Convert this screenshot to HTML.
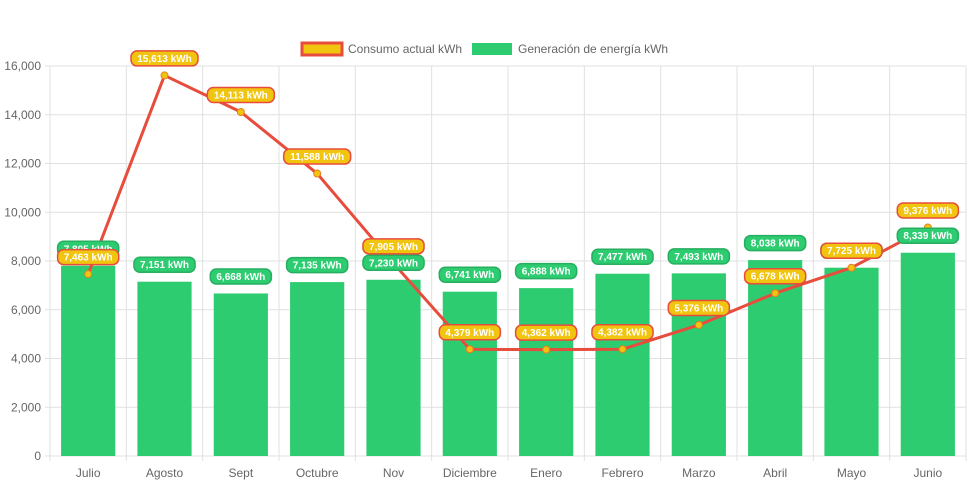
<!DOCTYPE html>
<html><head><meta charset="utf-8"><style>
body{margin:0;background:#fff;}
svg{display:block;font-family:"Liberation Sans",Arial,sans-serif;}
</style></head><body>
<svg id="chart" width="971" height="485"></svg>
<script>
const categories=["Julio","Agosto","Sept","Octubre","Nov","Diciembre","Enero","Febrero","Marzo","Abril","Mayo","Junio"];
const consumo=[7463,15613,14113,11588,7905,4379,4362,4382,5376,6678,7725,9376];
const generacion=[7805,7151,6668,7135,7230,6741,6888,7477,7493,8038,7725,8339];
const yTicks=[0,2000,4000,6000,8000,10000,12000,14000,16000];
const NS="http://www.w3.org/2000/svg";
const svg=document.getElementById('chart');
const L=50,R=966,T=66,B=456,yMax=16000;
const bw=(R-L)/categories.length;
const y=v=>B-(v/yMax)*(B-T);
const xc=i=>L+bw*(i+0.5);
function mk(tag,attrs,parent){const e=document.createElementNS(NS,tag);for(const k in attrs)e.setAttribute(k,attrs[k]);(parent||svg).appendChild(e);return e;}
const fmt=v=>v.toLocaleString('en-US');
// grid
yTicks.forEach(t=>{
 const g=mk('line',{x1:L-5,x2:R,y1:y(t),y2:y(t),stroke:'#e0e0e0','stroke-width':1});
 
 
 const tx=mk('text',{x:L-9,y:y(t)+4,'text-anchor':'end','font-size':12,fill:'#666'});
 tx.textContent=fmt(t);
 
 
});
for(let i=0;i<=categories.length;i++){
 const g=mk('line',{x1:L+bw*i,x2:L+bw*i,y1:T,y2:B+5,stroke:'#e0e0e0','stroke-width':1});
 
 
}
categories.forEach((c,i)=>{
 const tx=mk('text',{x:xc(i),y:B+21,'text-anchor':'middle','font-size':12,fill:'#666'});
 tx.textContent=c;
 
 
});
// bars
generacion.forEach((v,i)=>{
 const w=bw*0.71;
 const r=mk('rect',{x:xc(i)-w/2,y:y(v),width:w,height:B-y(v),fill:'#2ecc71'});
 
 
});
// line
const pts=consumo.map((v,i)=>xc(i)+','+y(v)).join(' ');
const pl=mk('polyline',{points:pts,fill:'none',stroke:'#e74c3c','stroke-width':3,'stroke-linejoin':'round'});


consumo.forEach((v,i)=>{
 const c=mk('circle',{cx:xc(i),cy:y(v),r:3.5,fill:'#f1c40f',stroke:'#e67e22','stroke-width':1});
 
 
});
function label(cx,cy,text,fill,stroke){
 const g=mk('g',{});
 const w=text.length*5.9+8;
 mk('rect',{x:cx-w/2,y:cy-7.5,width:w,height:15,rx:6,fill:fill,stroke:stroke,'stroke-width':stroke==='none'?0:1.5},g);
 const t=mk('text',{x:cx,y:cy+3.5,'text-anchor':'middle','font-size':10,'font-weight':'bold',fill:'#fff'},g);
 t.textContent=text;
 return g;
}
generacion.forEach((v,i)=>{
 const g=label(xc(i),y(v)-17,fmt(v)+' kWh','#2ecc71','#27ae60');
 
 
});
consumo.forEach((v,i)=>{
 const g=label(xc(i),y(v)-17,fmt(v)+' kWh','#f1c40f','#e74c3c');
 
 
});
// legend
const lg=mk('g',{});


const l1=mk('g',{},lg);


mk('rect',{x:302,y:43,width:40,height:12,fill:'#f1c40f',stroke:'#e74c3c','stroke-width':3},l1);
const t1=mk('text',{x:348,y:53,'font-size':12,fill:'#666'},l1);t1.textContent='Consumo actual kWh';
const l2=mk('g',{},lg);


mk('rect',{x:472,y:43,width:40,height:12,fill:'#2ecc71'},l2);
const t2=mk('text',{x:518,y:53,'font-size':12,fill:'#666'},l2);t2.textContent='Generación de energía kWh';
</script>
</body></html>
